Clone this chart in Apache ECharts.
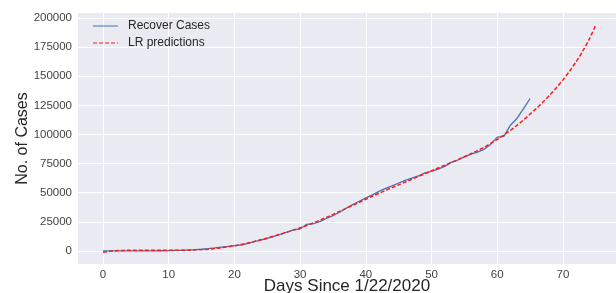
<!DOCTYPE html>
<html>
<head>
<meta charset="utf-8">
<script src="https://cdn.jsdelivr.net/npm/echarts@6/dist/echarts.min.js"></script>
<style>
  html, body { margin: 0; padding: 0; background: #fff; }
  #chart { width: 616px; height: 293px; }
</style>
</head>
<body>
<div id="chart"></div>
<script>
// days since 1/22/2020
const days = [];
for (let d = 0; d <= 75; d++) days.push(d);

// recovered cases, days 0..65
const recovered = [
  28, 30, 36, 39, 52, 61, 107, 126, 143, 222,
  284, 472, 623, 852, 1124, 1487, 2011, 2616, 3244, 3946,
  4683, 5150, 6295, 8058, 9395, 10865, 12583, 14352, 16121, 18177,
  18890, 22886, 23394, 25227, 27905, 30384, 33277, 36711, 39782, 42716,
  45602, 48228, 51170, 53796, 55865, 58358, 60694, 62494, 64404, 67003,
  68324, 70251, 72624, 76034, 78088, 80840, 83207, 84854, 87256, 91499,
  97704, 98351, 108000, 113787, 122150, 130915
];

// LR predictions, days 0..75
const predictions = [
  -1100, -300, 200, 500, 650, 700, 700, 650, 600, 550,
  550, 600, 650, 700, 900, 1200, 1600, 2100, 2800, 3600,
  4500, 5500, 6800, 8100, 9600, 11100, 12800, 14500, 16200, 18000,
  19900, 21900, 24100, 26400, 28900, 31400, 34000, 36600, 39200, 41800,
  44400, 47000, 49500, 52000, 54400, 56800, 59200, 61600, 64000, 66400,
  68800, 71200, 73600, 76000, 78400, 80900, 83500, 86200, 89000, 92300,
  95800, 99600, 103600, 107900, 112500, 117500, 122700, 128100, 133900, 140200,
  146900, 154300, 162400, 171500, 181800, 194000
];

const xTicks = [0, 10, 20, 30, 40, 50, 60, 70];
const yTicks = [0, 25000, 50000, 75000, 100000, 125000, 150000, 175000, 200000];

const chart = echarts.init(document.getElementById('chart'));

const font = 'Liberation Sans, Arial, sans-serif';
const blue = '#4C72B0';
const red = '#FF1A1A';

chart.setOption({
  animation: false,
  backgroundColor: '#fff',
  grid: {
    left: 78, top: 13, right: 0, bottom: 29,
    containLabel: false,
    outerBoundsMode: 'none',
    show: true, backgroundColor: '#EAEAF2', borderWidth: 0
  },
  legend: {
    orient: 'vertical',
    left: 88, top: 15,
    itemWidth: 25, itemHeight: 1.5, itemGap: 5,
    textStyle: { fontFamily: font, fontSize: 12, color: '#262626', padding: [0, 0, 0, 5] },
    data: [
      { name: 'Recover Cases', icon: 'path://M0,0H25V1H0Z', itemStyle: { color: blue } },
      { name: 'LR predictions', icon: 'path://M0,0h4v1h-4zM6,0h4v1h-4zM12,0h4v1h-4zM18,0h4v1h-4zM24,0h1v1h-1z', itemStyle: { color: red } }
    ]
  },
  xAxis: {
    type: 'value',
    min: -3.8, max: 78.07,
    name: 'Days Since 1/22/2020',
    nameLocation: 'middle',
    nameGap: 14,
    nameMoveOverlap: false,
    nameTextStyle: { fontFamily: font, fontSize: 17, color: '#262626' },
    axisLine: { show: false },
    axisTick: { show: false, customValues: xTicks },
    axisLabel: { customValues: xTicks, fontFamily: font, fontSize: 11.5, color: '#444', margin: 5 },
    splitLine: { show: true, lineStyle: { color: '#fff', width: 1 } }
  },
  yAxis: {
    type: 'value',
    min: -11159, max: 204292,
    name: 'No. of Cases',
    nameLocation: 'middle',
    nameGap: 47,
    nameMoveOverlap: false,
    nameTextStyle: { fontFamily: font, fontSize: 16, color: '#262626' },
    axisLine: { show: false },
    axisTick: { show: false, customValues: yTicks },
    axisLabel: {
      customValues: yTicks, fontFamily: font, fontSize: 11.5, color: '#444', margin: 6,
      formatter: (v) => String(v)
    },
    splitLine: { show: true, lineStyle: { color: '#fff', width: 1 } }
  },
  series: [
    {
      name: 'Recover Cases',
      type: 'line',
      symbol: 'none',
      data: recovered.map((v, i) => [days[i], v]),
      lineStyle: { color: blue, width: 1.3 },
      itemStyle: { color: blue },
      z: 2
    },
    {
      name: 'LR predictions',
      type: 'line',
      symbol: 'none',
      smooth: 0.3,
      data: predictions.map((v, i) => [days[i], v]),
      lineStyle: { color: red, width: 1.5, type: [4, 2] },
      itemStyle: { color: red },
      z: 3
    }
  ]
});
</script>
</body>
</html>
